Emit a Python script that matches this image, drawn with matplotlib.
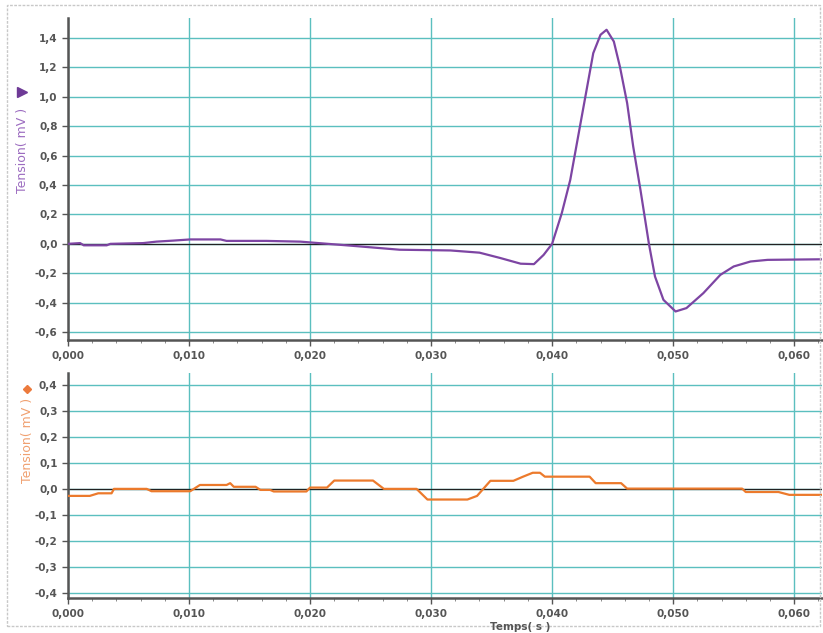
import numpy as np
import matplotlib.pyplot as plt
from matplotlib.ticker import MultipleLocator, FuncFormatter
from matplotlib.patches import Rectangle

# top trace (purple) : time (s), tension (mV)
t_top = [0.0, 0.0010, 0.0013, 0.0032, 0.0035, 0.0062, 0.0073, 0.0087, 0.0101, 0.0126,
         0.0131, 0.0164, 0.0192, 0.0233, 0.0274, 0.0316, 0.0340, 0.0357, 0.0374, 0.0385,
         0.0393, 0.0400, 0.0408, 0.0415, 0.0422, 0.0429, 0.0434, 0.0440, 0.0445, 0.0451,
         0.0456, 0.0462, 0.0467, 0.0473, 0.0480, 0.0485, 0.0492, 0.0502, 0.0511, 0.0525,
         0.0539, 0.0550, 0.0564, 0.0578, 0.0600, 0.0623]
v_top = [0.0, 0.005, -0.01, -0.01, 0.0, 0.005, 0.015, 0.022, 0.03, 0.03,
         0.02, 0.02, 0.015, -0.012, -0.04, -0.045, -0.06, -0.096, -0.135, -0.138,
         -0.075, 0.0, 0.209, 0.435, 0.753, 1.07, 1.297, 1.422, 1.456, 1.376,
         1.206, 0.957, 0.662, 0.367, 0.0, -0.222, -0.381, -0.46, -0.437, -0.335,
         -0.211, -0.154, -0.12, -0.109, -0.107, -0.105]

# bottom trace (orange)
t_bot = [0.0, 0.0018, 0.0025, 0.0036, 0.0038, 0.0065, 0.0069, 0.0101, 0.0109, 0.0131,
         0.0134, 0.0137, 0.0155, 0.0159, 0.0167, 0.0170, 0.0197, 0.0200, 0.0214, 0.0220,
         0.0252, 0.0261, 0.0288, 0.0297, 0.0330, 0.0338, 0.0349, 0.0368, 0.0376, 0.0384,
         0.0390, 0.0394, 0.0431, 0.0436, 0.0457, 0.0462, 0.0557, 0.0560, 0.0587, 0.0596,
         0.0623]
v_bot = [-0.027, -0.027, -0.017, -0.017, 0.0, 0.0, -0.009, -0.009, 0.015, 0.015,
         0.022, 0.008, 0.008, -0.004, -0.004, -0.01, -0.01, 0.005, 0.005, 0.032,
         0.032, 0.0, 0.0, -0.041, -0.041, -0.027, 0.031, 0.031, 0.047, 0.062,
         0.062, 0.047, 0.047, 0.022, 0.022, 0.001, 0.001, -0.012, -0.012, -0.023,
         -0.023]

xticks = [0.0, 0.01, 0.02, 0.03, 0.04, 0.05, 0.06]
top_yticks = [-0.6, -0.4, -0.2, 0.0, 0.2, 0.4, 0.6, 0.8, 1.0, 1.2, 1.4]
bot_yticks = [-0.4, -0.3, -0.2, -0.1, 0.0, 0.1, 0.2, 0.3, 0.4]

purple = '#7d45a3'
orange = '#ec7a2c'
grid_col = '#5bbfbf'
tick_col = '#555555'


def comma(fmt):
    return FuncFormatter(lambda v, p: (fmt % v).replace('.', ','))


def fx(px):
    return px / 823


def fy(py):
    return 1 - py / 633


fig = plt.figure(figsize=(8.23, 6.33), dpi=100)
fig.patches.append(Rectangle((fx(7), fy(626)), 813 / 823, 621 / 633, transform=fig.transFigure,
                             fill=False, edgecolor='#c8c8c8', lw=1, ls=(0, (2, 1))))

ax1 = fig.add_axes([fx(68), fy(340), 754 / 823, 322 / 633])
ax2 = fig.add_axes([fx(68), fy(598), 754 / 823, 225 / 633])

for ax, yt, ylim in [(ax1, top_yticks, (-0.654, 1.536)),
                     (ax2, bot_yticks, (-0.42, 0.446))]:
    ax.set_xlim(0, 0.0623)
    ax.set_ylim(*ylim)
    ax.set_xticks(xticks)
    ax.set_yticks(yt)
    ax.xaxis.set_minor_locator(MultipleLocator(0.002))
    ax.xaxis.set_major_formatter(comma('%.3f'))
    ax.yaxis.set_major_formatter(comma('%.1f'))
    ax.grid(True, color=grid_col, lw=1)
    ax.axhline(0, color='#222222', lw=0.9, zorder=2)
    for s in ['top', 'right']:
        ax.spines[s].set_visible(False)
    for s in ['left', 'bottom']:
        ax.spines[s].set_color('#555555')
        ax.spines[s].set_linewidth(1.8)
    ax.tick_params(axis='both', labelsize=7.5, colors=tick_col, length=4, width=1)
    ax.tick_params(axis='x', which='minor', length=2.5, color='#777777')
    ax.tick_params(axis='x', pad=4)
    for lab in ax.get_xticklabels() + ax.get_yticklabels():
        lab.set_fontweight('bold')

ax1.plot(t_top, v_top, color=purple, lw=1.6, zorder=3)
ax2.plot(t_bot, v_bot, color=orange, lw=1.6, zorder=3)

# y labels with their series markers
fig.text(fx(23), fy(150), 'Tension( mV )', rotation=90, color='#9c6cc0',
         fontsize=9, ha='center', va='center')
fig.lines.append(plt.Line2D([fx(22)], [fy(92)], marker='>', markersize=7, color='#6e3a96',
                            transform=fig.transFigure))
fig.text(fx(28), fy(440), 'Tension( mV )', rotation=90, color='#f0a070',
         fontsize=9, ha='center', va='center')
fig.lines.append(plt.Line2D([fx(27)], [fy(389)], marker='D', markersize=4, color='#ec7a3c',
                            transform=fig.transFigure))
fig.text(fx(520), fy(627), 'Temps( s )', color=tick_col, fontsize=7.5,
         ha='center', va='center', fontweight='bold')

fig.savefig('out.png', dpi=100)
